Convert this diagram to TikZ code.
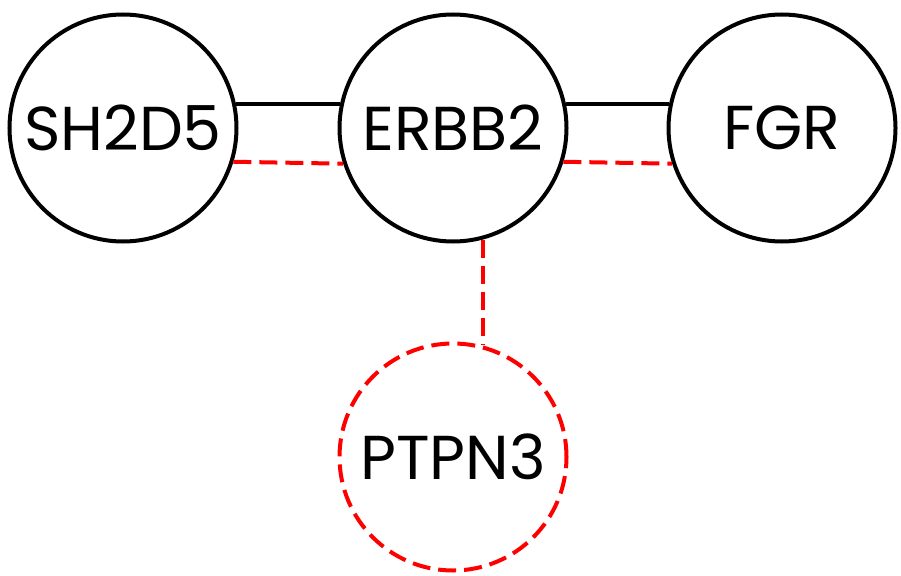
\documentclass[tikz,border=0pt]{standalone}
\usepackage{fontspec}
\setsansfont{Poppins}
\begin{document}
\begin{tikzpicture}[x=1pt,y=-1pt,
    gene/.style={circle,draw,line width=4pt,minimum size=227pt,inner sep=0pt,
      font=\sffamily\fontsize{62}{62}\selectfont},
    lost/.style={gene,draw=red,dash pattern=on 18pt off 8pt},
    bond/.style={line width=4pt},
    gone/.style={line width=4pt,red,dash pattern=on 18pt off 8pt}]
    \useasboundingbox (0,0) rectangle (901,575);

    \node[gene] (sh2d5) at (123,128) {SH2D5};
    \node[gene] (erbb2) at (453,128) {ERBB2};
    \node[gene] (fgr) at (782,128) {FGR};
    \node[lost] (ptpn3) at (453,457) {PTPN3};

    \draw[bond] (sh2d5.12) -- (erbb2.168);
    \draw[bond] (erbb2.12) -- (fgr.168);
    \draw[gone] (sh2d5.-17.7) -- (erbb2.-162.3);
    \draw[gone] (erbb2.-17.7) -- (fgr.-162.3);
    \draw[gone] (erbb2.-75.4) -- (ptpn3.75.4);
  \end{tikzpicture}
\end{document}
